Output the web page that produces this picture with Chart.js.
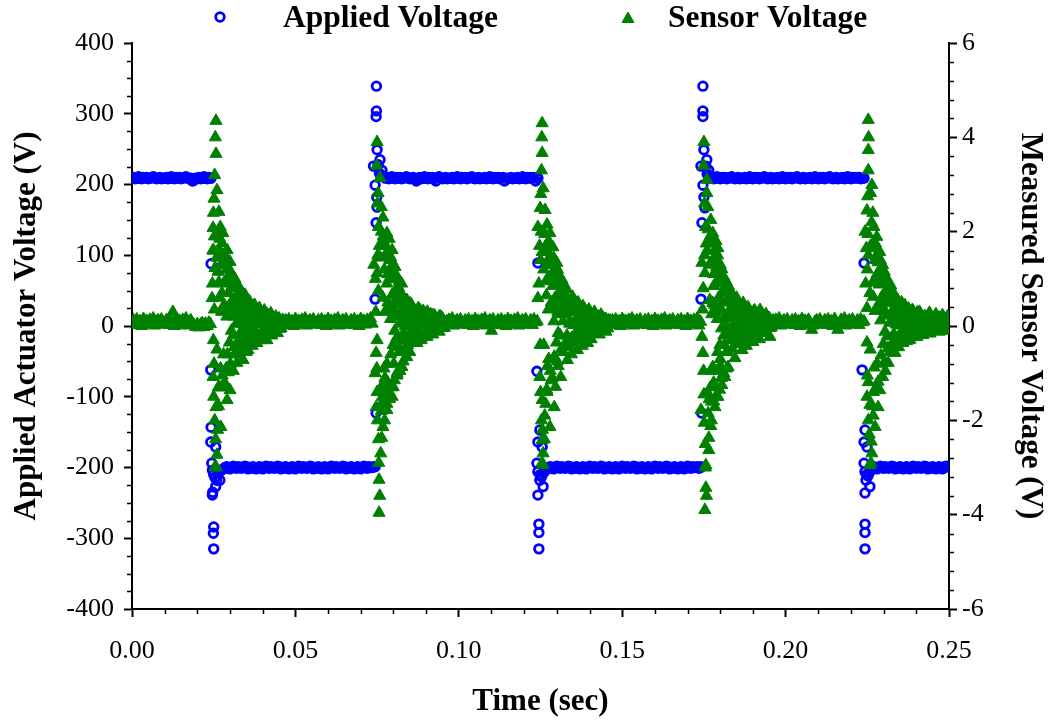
<!DOCTYPE html>
<html>
<head>
<meta charset="utf-8">
<title>Applied and Sensor Voltage</title>
<script src="https://cdn.jsdelivr.net/npm/chart.js@4.4.1/dist/chart.umd.min.js"></script>
<style>
  html, body { margin: 0; padding: 0; background: #ffffff; }
  canvas { display: block; }
</style>
</head>
<body>
<canvas id="chart" width="1053" height="721"></canvas>
<script>
// ---- Recorded samples ----
// Steady stretches are stored as uniformly sampled values (0.5 ms apart) from a start time;
// the switching transients are stored as [time (ms), voltage (V)] pairs.
const SAMPLE_MS = 0.5;
const run = (t0, values) => values.map((v, i) => [t0 + i * SAMPLE_MS, v]);

// Applied actuator voltage, left axis
const appliedHigh1 = run(0, [209,210,208,209,211,209,208,210,209,210, 208,209,210,211,209,208,209,210,208,209, 209,210,208,209,211,209,208,210,209,210, 208,209,210,211,209,208,209,205,206,209, 209,210,208,209,211,209,208,210,209]);
const appliedFall1 = [[24.2,209],[24.2,88],[24.1,-62],[24.2,-143],[24.1,-164],[25.6,-171],[24.4,-194],[24.6,-204],[25.0,-210],[25.4,-214],[25.9,-218],[26.9,-218],[25.6,-227],[24.7,-235],[24.6,-239],[25.0,-284],[24.9,-293],[25.0,-315],[26.3,-208],[27.0,-205],[27.6,-203],[28.2,-201]];
const appliedLow1 = run(28.5, [-200,-199,-201,-202,-200,-198,-200,-201,-199,-200, -201,-200,-198,-199,-202,-200,-201,-199,-200,-202, -200,-199,-201,-202,-200,-198,-200,-201,-199,-200, -201,-200,-198,-199,-202,-200,-201,-199,-200,-202, -200,-199,-201,-202,-200,-198,-200,-201,-199,-200, -201,-200,-198,-199,-202,-200,-201,-199,-200,-202, -200,-199,-201,-202,-200,-198,-200,-201,-199,-200, -201,-200,-198,-199,-202,-200,-201,-199,-200,-202, -200,-199,-201,-202,-200,-198,-200,-201,-199,-200, -200,-199]);
const appliedRise1 = [[74.4,-199],[74.7,-123],[74.4,38],[74.7,146],[75.0,168],[74.9,182],[74.4,199],[76.5,220],[73.9,226],[75.9,235],[75.0,249],[74.7,296],[74.8,304],[74.8,339],[75.3,228],[75.7,216],[76.1,213],[76.9,212],[77.3,211]];
const appliedHigh2 = run(77.5, [209,210,208,209,211,209,208,210,209,210, 208,209,210,211,209,208,209,210,208,205, 209,210,208,209,211,209,208,210,209,210, 208,205,210,211,209,208,209,210,208,209, 209,210,208,209,211,209,208,210,209,210, 208,209,210,211,209,208,209,210,208,209, 209,210,208,209,211,209,208,210,209,210, 208,209,210,205,209,208,209,210,208,209, 209,210,208,209,211,209,208,210,209,210, 209,210,205,209]);
const appliedFall2 = [[124.2,209],[124.2,89],[123.9,-64],[124.8,-147],[124.2,-164],[125.5,-171],[123.9,-194],[124.2,-206],[124.8,-218],[125.8,-227],[124.2,-239],[124.5,-280],[124.5,-292],[124.5,-315],[124.9,-210],[125.3,-213],[126.0,-207],[126.5,-204],[127.0,-202]];
const appliedLow2 = run(127.5, [-200,-199,-201,-202,-200,-198,-200,-201,-199,-200, -201,-200,-198,-199,-202,-200,-201,-199,-200,-202, -200,-199,-201,-202,-200,-198,-200,-201,-199,-200, -201,-200,-198,-199,-202,-200,-201,-199,-200,-202, -200,-199,-201,-202,-200,-198,-200,-201,-199,-200, -201,-200,-198,-199,-202,-200,-201,-199,-200,-202, -200,-199,-201,-202,-200,-198,-200,-201,-199,-200, -201,-200,-198,-199,-202,-200,-201,-199,-200,-202, -200,-199,-201,-202,-200,-198,-200,-201,-199,-200, -200,-199,-201,-200]);
const appliedRise2 = [[174.1,-199],[174.3,-123],[174.1,38],[174.4,146],[175.3,167],[175.0,182],[174.7,199],[176.5,220],[174.1,226],[175.9,235],[175.0,249],[174.7,296],[174.7,304],[174.7,339],[175.6,226],[176.0,215],[176.4,213],[176.8,211]];
const appliedHigh3 = run(177, [209,210,208,209,211,209,208,210,209,210, 208,209,210,211,209,208,209,210,208,209, 209,210,208,209,211,209,208,210,209,210, 208,209,210,211,209,208,209,210,208,209, 209,210,208,209,211,209,208,210,209,210, 208,209,210,211,209,208,209,210,208,209, 209,210,208,209,211,209,208,210,209,210, 208,209,210,211,209,208,209,210,208,209, 209,210,208,209,211,209,208,210,209,210, 209,210,208,209,209]);
const appliedFall3 = [[224.0,89],[223.4,-62],[224.3,-147],[224.0,-164],[224.9,-171],[224.0,-194],[224.3,-206],[224.6,-218],[225.8,-227],[224.3,-236],[224.3,-280],[224.3,-292],[224.3,-315],[224.8,-210],[225.2,-212],[225.6,-207],[226.1,-204]];
const appliedLow3 = run(226.5, [-200,-199,-201,-202,-200,-198,-200,-201,-199,-200, -201,-200,-198,-199,-202,-200,-201,-199,-200,-202, -200,-199,-201,-202,-200,-198,-200,-201,-199,-200, -201,-200,-198,-199,-202,-200,-201,-199,-200,-202, -200,-199,-201,-202,-200,-198,-199]);

// Measured sensor voltage, right axis
const sensorRest1 = run(0, [0.06,0.12,0.02,0.14,0.08,0.1,0.0,0.15,0.05,0.11, 0.03,0.13,0.07,0.16,0.01,0.09,0.12,0.04,0.14,0.06, 0.06,0.12,0.02,0.14,0.08,0.3,0.0,0.15,0.05,0.11, 0.03,0.13,0.07,0.16,0.01,0.09,0.12,0.04,0.02,-0.02, 0.04,-0.03,0.03,0.06,-0.02,0.05,0.0,0.07,0.04]);
const sensorRing1 = [[25.7,4.35],[25.7,3.65],[26.0,2.88],[26.6,2.42],[24.8,2.08],[27.8,1.97],[26.9,1.85],[29.1,1.61],[28.5,1.5],[30.0,1.36],[25.4,1.23],[26.6,0.93],[30.9,1.04],[24.5,0.59],[31.8,0.83],
  [24.8,-1.08],[25.7,-1.72],[27.2,-2.14],[26.0,-2.73],[25.4,-2.99],[28.5,-1.29],[29.4,-0.98],[29.1,-1.57],[30.0,-1.36],[32.1,-0.78],[34.0,-0.72],[35.5,-0.51],[38.2,-0.36],[41.3,-0.3],
  [25.0,1.6],[25.9,1.45],[26.3,1.15],[27.2,1.3],[27.5,0.7],[25.2,0.35],[26.0,-0.5],[25.1,-0.8],[26.4,-1.3],[27.6,-1.05],[28.0,-0.6],[28.8,-0.9],
  [28.2,0.45],[28.6,0.95],[29.0,0.2],[29.5,0.7],[29.8,-0.35],[30.3,0.35],[30.6,0.85],[31.0,-0.2],[31.3,0.5],[31.6,-0.6],[32.0,0.3],[32.4,0.7],[32.7,-0.3],[33.0,0.45],[33.4,0.05],[33.7,0.6],[34.1,-0.35],[34.4,0.3],[34.8,0.5],[35.1,-0.15],[35.5,0.38],[35.9,0.1],[36.3,-0.3],[36.7,0.42],[37.1,0.15],[37.5,-0.2],[37.9,0.35],[38.4,0.05],[38.9,0.3],[39.4,-0.18],[39.9,0.26],[40.4,-0.05],[40.9,0.22],[41.5,0.0],[42.1,0.2],[42.7,-0.12],[43.3,0.17],[43.9,-0.05],[44.6,0.15],[45.3,-0.06],[46.1,0.13],
  [33.0,0.8],[34.6,0.66],[36.0,0.52],[37.5,0.45],[39.0,0.38],[40.5,0.33],[42.5,0.27],
  [31.0,-0.95],[32.8,-0.6],[35.0,-0.55],[36.8,-0.42],[39.8,-0.3],[42.8,-0.2],[44.5,-0.15]];
const sensorCore1 = [[24.6,0.9],[24.7,1.6],[24.9,2.4],[25.1,2.7],[25.3,3.2],[25.5,4.0],[25.2,1.9],[24.9,-0.3],[25.0,-1.5],[25.3,-2.0],[25.6,-2.4],[25.8,-3.0],[26.2,-2.2],[26.5,-1.7],[26.8,-1.3],[27.0,2.1],[26.3,1.9],[26.8,1.6],[27.5,1.75],[28.0,1.5],[28.3,1.3],[29.0,1.4],[29.6,1.2],[30.2,1.15],[31.0,0.95],[31.5,1.0],[32.2,0.85],
  [26.8,0.6],[27.1,-0.9],[27.4,0.3],[27.7,1.5],[28.0,0.9],[28.3,-1.2],[28.6,0.35],[28.9,1.2],[29.2,-0.6],[29.5,0.4],[29.8,1.0],[30.1,-0.8],[30.4,-0.1],[30.7,0.55],[31.0,0.2],[31.3,-0.45],[31.6,0.8],[31.9,0.05],[32.2,-0.5],[32.5,0.6],[32.8,0.2],[33.1,-0.15],[33.4,0.35],[33.7,-0.45],[34.0,0.15],[34.3,0.5],[34.6,-0.2],[34.9,0.25],[35.2,0.0],[35.5,0.45],[35.8,-0.3],[36.1,0.2],[36.4,-0.05],[36.7,0.3],[37.0,-0.35],[37.3,0.1],[37.6,0.38],[37.9,-0.12],[38.2,0.2],[38.5,-0.25],[38.8,0.1],[39.1,0.32],[39.4,0.05],[39.7,-0.2],[40.0,0.15],[40.3,0.3],[40.6,-0.1],[41.0,0.1],[41.4,0.25],[41.8,-0.15],[42.2,0.05],[42.6,0.22],[43.0,-0.08],[43.5,0.1],[44.0,0.2],[44.5,0.0],[45.0,0.16],[45.6,-0.04],[46.3,0.1]];
const sensorRest2 = run(46.5, [0.06,0.12,0.02,0.14,0.08,0.1,0.0,0.15,0.05,0.11, 0.03,0.13,0.07,0.16,0.01,0.09,0.12,0.04,0.14,0.06, 0.06,0.12,0.02,0.14,0.08,0.1,0.0,0.15,0.05,0.11, 0.03,0.13,0.07,0.16,0.01,0.09,0.12,0.04,0.14,0.06, 0.06,0.12,0.02,0.14,0.08,0.1,0.0,0.15,0.05,0.11, 0.03,0.13,0.07,0.16,0.05]);
const sensorRing2 = [[75.0,3.9],[75.9,3.14],[75.3,2.82],[76.3,2.52],[76.8,2.3],[78.0,1.97],[79.6,1.61],[75.0,1.12],[80.5,1.12],[81.4,0.83],[75.4,0.75],[84.1,0.55],[88.1,0.34],
  [74.0,1.3],[74.5,1.0],[76.0,1.45],[77.0,1.8],[77.2,1.2],[78.9,1.4],[78.3,1.1],
  [75.6,-3.96],[75.6,-3.26],[76.1,-2.7],[76.4,-2.37],[76.8,-2.14],[74.7,-1.72],[78.0,-1.78],[79.6,-1.5],[79.9,-1.29],[76.2,-1.3],[81.1,-1.0],[74.7,-0.57],[82.6,-0.87],[84.1,-0.66],[87.2,-0.36],[90.3,-0.23],
  [74.4,-1.0],[75.0,-0.3],[76.8,-1.6],[77.4,-1.1],[78.5,-1.4],[78.0,-0.8],
  [78.3,0.5],[78.7,1.0],[79.1,0.15],[79.5,0.65],[79.9,-0.4],[80.2,0.3],[80.6,0.75],[81.0,-0.25],[81.4,0.45],[81.8,-0.55],[82.1,0.25],[82.5,0.68],[82.9,-0.3],[83.2,0.4],[83.6,0.0],[84.0,0.55],[84.3,-0.4],[84.7,0.3],[85.1,0.48],[85.5,-0.2],[85.9,0.36],[86.3,0.08],[86.7,-0.28],[87.2,0.2],[87.6,-0.15],[88.1,0.3],[88.6,0.02],[89.1,0.27],[89.6,-0.16],[90.1,0.22],[90.7,-0.05],[91.3,0.2],[91.9,-0.1],[92.5,0.18],[93.1,-0.06],[93.8,0.15],[94.5,-0.04],[95.2,0.12],
  [84.1,0.52],[85.5,0.45],[88.1,0.32],[90.5,0.28],[92.1,0.23],[94.5,0.2],
  [81.5,-0.95],[83.0,-0.75],[85.0,-0.55],[88.5,-0.3],[92.0,-0.18],[94.0,-0.12]];
const sensorCore2 = [[74.9,3.4],[75.1,2.6],[75.4,2.1],[75.7,1.7],[75.2,1.5],[74.6,0.3],[74.9,-0.9],[75.0,-1.4],[75.1,-2.0],[75.4,-2.4],[75.5,-2.9],[75.8,-3.6],[76.3,-1.8],[76.6,-1.5],[77.0,-1.3],[76.3,2.0],[76.9,1.9],[77.4,1.7],[78.3,1.6],[78.7,1.85],[79.2,1.45],[80.0,1.3],[80.5,1.25],[81.0,1.0],[81.8,0.95],[82.5,0.9],[77.3,-2.0],[78.0,-1.65],[78.8,-1.55],[79.8,-1.3],[80.3,-1.15],[81.1,-1.05],[82.0,-0.95],
  [76.8,0.6],[77.1,-0.9],[77.4,0.3],[77.7,1.5],[78.0,0.9],[78.3,-1.2],[78.6,0.35],[78.9,1.2],[79.2,-0.6],[79.5,0.4],[79.8,1.0],[80.1,-0.8],[80.4,-0.1],[80.7,0.55],[81.0,0.2],[81.3,-0.45],[81.6,0.8],[81.9,0.05],[82.2,-0.5],[82.5,0.6],[82.8,0.2],[83.1,-0.15],[83.4,0.35],[83.7,-0.45],[84.0,0.15],[84.3,0.5],[84.6,-0.2],[84.9,0.25],[85.2,0.0],[85.5,0.45],[85.8,-0.3],[86.1,0.2],[86.4,-0.05],[86.7,0.3],[87.0,-0.35],[87.3,0.1],[87.6,0.38],[87.9,-0.12],[88.2,0.2],[88.5,-0.25],[88.8,0.1],[89.1,0.32],[89.4,0.05],[89.7,-0.2],[90.0,0.15],[90.3,0.3],[90.6,-0.1],[91.0,0.1],[91.4,0.25],[91.8,-0.15],[92.2,0.05],[92.6,0.22],[93.0,-0.08],[93.5,0.1],[94.0,0.2],[94.5,0.0],[95.0,0.16],[95.6,-0.04],[96.3,0.1]];
const sensorRest3 = run(96.5, [0.03,0.13,0.07,0.16,0.01,0.09,0.12,0.04,0.14,0.06, 0.06,0.12,0.02,0.14,0.08,0.1,0.0,0.15,0.05,0.11, 0.03,0.13,0.07,0.16,0.01,0.09,0.12,-0.1,0.14,0.06, 0.06,0.12,0.02,0.14,0.08,0.1,0.0,0.15,0.05,0.11, 0.03,0.13,0.07,0.16,0.01,0.09,0.12,0.04,0.14,0.06, 0.06,0.12,0.02,0.14,0.08,0.1]);
const sensorRing3 = [[125.5,4.3],[125.5,3.67],[125.8,2.92],[126.4,2.46],[124.2,2.1],[127.9,1.97],[128.8,1.67],[125.5,1.57],[130.0,1.34],[126.9,0.98],[131.6,0.98],[124.2,0.59],
  [125.0,1.4],[126.0,1.2],[126.6,1.7],[127.3,1.3],[128.2,1.05],[129.3,1.2],[130.8,0.9],
  [124.8,-1.08],[125.5,-1.57],[129.2,-1.72],[127.9,-2.14],[125.5,-2.42],[125.8,-2.7],[125.5,-2.9],[129.6,-1.29],[131.2,-1.08],[128.0,-0.95],[133.2,-0.72],[136.3,-0.51],[139.4,-0.36],
  [126.3,-1.9],[127.0,-1.4],[127.5,-0.7],[128.6,-1.1],[130.4,-0.85],[126.0,-0.4],
  [128.3,0.5],[128.7,0.85],[129.1,0.1],[129.5,0.6],[129.9,-0.35],[130.3,0.3],[130.7,0.7],[131.1,-0.2],[131.5,0.45],[131.9,-0.55],[132.3,0.25],[132.7,0.65],[133.1,-0.3],[133.5,0.4],[133.9,0.05],[134.3,0.55],[134.7,-0.35],[135.1,0.3],[135.5,0.48],[135.9,-0.15],[136.3,0.35],[136.7,0.05],[137.1,-0.28],[137.6,0.32],[138.1,0.05],[138.6,-0.2],[139.1,0.28],[139.7,0.0],[140.3,0.24],[140.9,-0.12],[141.5,0.2],[142.2,-0.05],[142.9,0.18],[143.6,-0.08],[144.3,0.15],[145.0,-0.03],[145.8,0.12],
  [133.0,0.78],[134.8,0.62],[136.5,0.5],[138.0,0.42],[139.8,0.35],[141.5,0.3],[143.5,0.24],
  [134.5,-0.6],[137.8,-0.42],[140.5,-0.28],[143.0,-0.18],[145.0,-0.12]];
const sensorCore3 = [[124.5,0.9],[124.7,1.7],[124.9,2.5],[125.1,2.8],[125.3,3.3],[125.4,4.0],[125.2,2.0],[124.9,-0.4],[125.0,-1.4],[125.3,-2.0],[125.6,-2.2],[125.7,-2.95],[126.2,-2.4],[126.6,-1.65],[126.9,-1.35],[127.0,2.15],[126.3,1.95],[126.9,1.6],[127.5,1.8],[128.0,1.45],[128.3,1.3],[129.0,1.45],[129.6,1.15],[130.2,1.2],[131.0,1.0],[131.5,0.95],[132.2,0.88],
  [126.8,0.65],[127.1,-0.85],[127.4,0.35],[127.7,1.45],[128.0,0.95],[128.3,-1.15],[128.6,0.4],[128.9,1.15],[129.2,-0.65],[129.5,0.45],[129.8,0.95],[130.1,-0.75],[130.4,-0.15],[130.7,0.6],[131.0,0.25],[131.3,-0.5],[131.6,0.75],[131.9,0.1],[132.2,-0.45],[132.5,0.55],[132.8,0.25],[133.1,-0.2],[133.4,0.4],[133.7,-0.4],[134.0,0.1],[134.3,0.45],[134.6,-0.25],[134.9,0.3],[135.2,0.02],[135.5,0.42],[135.8,-0.28],[136.1,0.18],[136.4,-0.08],[136.7,0.32],[137.0,-0.3],[137.3,0.12],[137.6,0.36],[137.9,-0.15],[138.2,0.22],[138.5,-0.22],[138.8,0.08],[139.1,0.3],[139.4,0.03],[139.7,-0.18],[140.0,0.17],[140.3,0.28],[140.6,-0.12],[141.0,0.12],[141.4,0.24],[141.8,-0.13],[142.2,0.06],[142.6,0.2],[143.0,-0.06],[143.5,0.12],[144.0,0.19],[144.5,-0.02],[145.0,0.15],[145.6,-0.05],[146.3,0.11]];
const sensorRest4 = run(146.5, [0.06,0.12,0.02,0.14,0.08,0.1,0.0,0.15,0.05,0.11, 0.03,0.13,0.07,0.16,0.01,0.09,0.12,0.04,0.14,0.06, 0.06,0.12,0.02,0.14,0.08,0.1,0.0,0.15,0.05,0.11, 0.03,0.13,0.07,0.16,0.01,0.09,0.12,0.04,0.14,0.06, 0.06,0.12,0.02,0.14,0.08,0.1,0.0,0.15,0.05,0.11, 0.03,0.13,0.07,0.16,0.01,0.09]);
const sensorRing4 = [[175.0,3.9],[175.9,3.1],[175.9,2.82],[176.2,2.52],[177.1,2.25],[177.7,1.97],[179.3,1.65],[174.4,1.34],[179.0,1.4],[179.9,1.12],[175.3,1.12],[182.1,0.83],[177.7,0.49],[187.0,0.49],[192.2,0.34],
  [176.0,1.6],[176.7,1.3],[178.0,1.1],[178.6,1.5],[180.8,1.0],[174.8,0.8],
  [175.3,-3.9],[175.6,-3.43],[175.6,-2.95],[176.5,-2.63],[176.5,-2.37],[177.1,-2.12],[174.1,-1.78],[178.4,-1.72],[179.3,-1.5],[180.5,-1.25],[176.2,-1.42],[181.4,-1.08],[177.7,-0.87],[182.4,-0.87],[184.5,-0.68],[186.7,-0.51],[190.0,-0.34],[195.2,-0.23],[174.4,-0.23],[174.7,-0.57],
  [177.3,-1.6],[178.0,-1.2],[179.0,-0.95],[180.0,-0.7],
  [178.3,0.45],[178.7,0.9],[179.1,0.15],[179.5,0.6],[179.9,-0.4],[180.3,0.35],[180.7,0.72],[181.1,-0.2],[181.5,0.5],[181.9,-0.55],[182.3,0.25],[182.7,0.65],[183.1,-0.3],[183.5,0.42],[183.9,0.02],[184.3,0.56],[184.7,-0.38],[185.1,0.3],[185.5,0.46],[185.9,-0.18],[186.3,0.36],[186.7,0.08],[187.2,-0.25],[187.7,0.3],[188.2,0.02],[188.7,-0.2],[189.2,0.27],[189.8,-0.05],[190.4,0.22],[191.0,-0.12],[191.7,0.2],[192.4,-0.05],[193.1,0.17],[193.8,-0.08],[194.5,0.14],[195.3,-0.04],[196.1,0.12],
  [183.5,0.7],[185.0,0.6],[188.5,0.4],[190.5,0.33],[194.0,0.25],
  [188.0,-0.42],[192.0,-0.28],[194.0,-0.15]];
const sensorCore4 = [[174.9,3.4],[175.2,2.6],[175.5,2.1],[175.7,1.75],[175.2,1.5],[174.6,0.35],[174.9,-0.95],[175.0,-1.45],[175.1,-2.05],[175.4,-2.5],[175.5,-3.0],[175.8,-3.6],[176.3,-1.85],[176.6,-1.55],[177.0,-1.3],[176.3,2.05],[176.9,1.9],[177.4,1.75],[178.3,1.6],[178.7,1.8],[179.2,1.5],[180.0,1.3],[180.5,1.2],[181.0,1.05],[181.8,0.95],[182.5,0.85],[177.3,-2.0],[178.0,-1.6],[178.8,-1.5],[179.8,-1.35],[180.3,-1.1],[181.1,-1.0],[182.0,-0.9],
  [176.8,0.55],[177.1,-0.95],[177.4,0.25],[177.7,1.4],[178.0,0.85],[178.3,-1.25],[178.6,0.3],[178.9,1.25],[179.2,-0.55],[179.5,0.35],[179.8,1.05],[180.1,-0.85],[180.4,-0.05],[180.7,0.5],[181.0,0.15],[181.3,-0.4],[181.6,0.85],[181.9,0.0],[182.2,-0.55],[182.5,0.62],[182.8,0.18],[183.1,-0.12],[183.4,0.32],[183.7,-0.48],[184.0,0.18],[184.3,0.52],[184.6,-0.18],[184.9,0.22],[185.2,-0.02],[185.5,0.47],[185.8,-0.32],[186.1,0.22],[186.4,-0.03],[186.7,0.28],[187.0,-0.33],[187.3,0.12],[187.6,0.4],[187.9,-0.1],[188.2,0.18],[188.5,-0.27],[188.8,0.12],[189.1,0.3],[189.4,0.06],[189.7,-0.22],[190.0,0.13],[190.3,0.32],[190.6,-0.08],[191.0,0.11],[191.4,0.26],[191.8,-0.14],[192.2,0.04],[192.6,0.23],[193.0,-0.07],[193.5,0.11],[194.0,0.21],[194.5,0.01],[195.0,0.17],[195.6,-0.03],[196.3,0.1]];
const sensorRest5 = run(196.5, [0.03,0.13,0.07,0.16,0.01,0.09,0.12,0.04,0.14,0.06, 0.06,0.12,0.02,0.14,0.08,0.1,0.0,0.15,0.05,0.11, 0.03,0.13,0.07,-0.08,0.01,0.09,0.12,0.04,0.14,0.06, 0.06,0.12,0.02,0.14,0.08,0.1,0.0,0.15,0.05,-0.08, 0.03,0.13,0.07,0.16,0.01,0.09,0.12,0.04,0.14,0.06, 0.06,0.12,0.02,0.14,0.08,0.1]);
const sensorRing5 = [[225.3,4.37],[225.3,3.73],[226.4,2.99],[226.0,2.82],[226.7,2.4],[224.3,2.0],[227.9,1.89],[228.8,1.57],[225.3,1.5],[229.7,1.29],[226.7,0.93],[224.9,0.38],[231.8,0.83],[234.8,0.49],[238.8,0.34],[244.0,0.28],[248.0,0.23],
  [225.0,1.2],[226.0,1.7],[227.3,1.4],[228.0,1.1],[230.5,1.05],[225.8,0.7],
  [225.3,-1.19],[224.9,-1.5],[225.8,-1.67],[228.3,-1.72],[228.8,-1.36],[229.7,-1.08],[227.4,-2.14],[226.4,-2.7],[226.1,-2.9],[231.4,-0.78],[233.5,-0.57],[235.9,-0.36],[240.2,-0.23],[244.2,-0.16],[249.4,-0.1],
  [226.8,-1.9],[227.8,-1.3],[228.0,-0.8],[230.5,-0.95],[225.9,-0.5],
  [228.3,0.45],[228.7,0.88],[229.1,0.12],[229.5,0.62],[229.9,-0.38],[230.3,0.32],[230.7,0.75],[231.1,-0.22],[231.5,0.48],[231.9,-0.55],[232.3,0.27],[232.7,0.66],[233.1,-0.32],[233.5,0.4],[233.9,0.03],[234.3,0.55],[234.7,-0.36],[235.1,0.3],[235.5,0.5],[235.9,-0.16],[236.3,0.36],[236.7,0.06],[237.1,-0.27],[237.6,0.3],[238.1,0.04],[238.6,-0.2],[239.1,0.28],[239.7,-0.02],[240.3,0.24],[240.9,-0.12],[241.5,0.2],[242.2,-0.05],[242.9,0.18],[243.6,-0.08],[244.3,0.15],[245.0,-0.03],[245.8,0.14],[246.6,-0.04],[247.4,0.13],[248.2,0.0],[249.0,0.12],[249.6,0.05],[249.8,0.15],
  [233.0,0.7],[236.5,0.44],[241.0,0.3],[246.0,0.25],[249.5,0.2],
  [234.6,-0.45],[238.0,-0.3],[242.0,-0.19],[247.0,-0.12]];
const sensorCore5 = [[224.5,0.9],[224.7,1.65],[224.9,2.45],[225.1,2.75],[225.3,3.3],[225.4,4.0],[225.2,1.95],[224.9,-0.35],[225.0,-1.05],[225.3,-2.0],[225.6,-2.3],[225.8,-2.95],[226.2,-2.45],[226.6,-1.7],[226.9,-1.4],[227.0,2.1],[226.3,2.2],[226.9,1.65],[227.5,1.75],[228.0,1.5],[228.3,1.35],[229.0,1.4],[229.6,1.2],[230.2,1.15],[231.0,1.0],[231.5,0.92],[232.2,0.86],
  [226.8,0.62],[227.1,-0.88],[227.4,0.32],[227.7,1.48],[228.0,0.92],[228.3,-1.18],[228.6,0.38],[228.9,1.18],[229.2,-0.62],[229.5,0.42],[229.8,0.98],[230.1,-0.78],[230.4,-0.12],[230.7,0.58],[231.0,0.22],[231.3,-0.47],[231.6,0.78],[231.9,0.07],[232.2,-0.48],[232.5,0.58],[232.8,0.22],[233.1,-0.17],[233.4,0.37],[233.7,-0.43],[234.0,0.13],[234.3,0.48],[234.6,-0.22],[234.9,0.27],[235.2,0.01],[235.5,0.44],[235.8,-0.29],[236.1,0.19],[236.4,-0.06],[236.7,0.31],[237.0,-0.32],[237.3,0.11],[237.6,0.37],[237.9,-0.13],[238.2,0.21],[238.5,-0.24],[238.8,0.09],[239.1,0.31],[239.4,0.04],[239.7,-0.19],[240.0,0.16],[240.3,0.29],[240.6,-0.11],[241.0,0.11],[241.4,0.24],[241.8,-0.14],[242.2,0.05],[242.6,0.21],[243.0,-0.07],[243.5,0.11],[244.0,0.2],[244.5,0.01],[245.0,0.16],[245.6,-0.04],[246.3,0.1],[247.0,0.18],[247.7,-0.02],[248.4,0.15],[249.1,0.05],[249.7,0.1]];

// ---- Axis labels and ticks ----
const seriesNames = ['Applied Voltage', 'Sensor Voltage'];
const xTickLabels = ['0.00', '0.05', '0.10', '0.15', '0.20', '0.25'];
const yTickLabels = ['-400', '-300', '-200', '-100', '0', '100', '200', '300', '400'];
const y1TickLabels = ['-6', '-4', '-2', '0', '2', '4', '6'];
const xTitle = 'Time (sec)';
const yTitle = 'Applied Actuator Voltage (V)';
const y1Title = 'Measured Sensor Voltage (V)';

// ---- Build datasets (ms -> s) ----
const toPoints = segments => segments.flat().map(([t, v]) => ({ x: t / 1000, y: v }));
const appliedPoints = toPoints([appliedHigh1, appliedFall1, appliedLow1, appliedRise1, appliedHigh2,
  appliedFall2, appliedLow2, appliedRise2, appliedHigh3, appliedFall3, appliedLow3]);
const sensorPoints = toPoints([sensorRest1, sensorRing1, sensorCore1, sensorRest2, sensorRing2, sensorCore2,
  sensorRest3, sensorRing3, sensorCore3, sensorRest4, sensorRing4, sensorCore4, sensorRest5, sensorRing5, sensorCore5]);

const BLUE = '#0000ff';
const GREEN = '#008000';
const FONT = 'Liberation Serif';
Chart.defaults.font.family = FONT;
Chart.defaults.color = '#000000';

const circleMarker = { pointStyle: 'circle', radius: 4.3, borderWidth: 2.8, rotation: 0 };
const triangleMarker = { pointStyle: 'triangle', radius: 7, borderWidth: 1, rotation: 0 };

// Short minor ticks between the labelled ones
const minorTicks = {
  id: 'minorTicks',
  afterDraw(chart) {
    const { ctx, scales } = chart;
    ctx.save();
    ctx.strokeStyle = '#000000';
    ctx.lineWidth = 1.5;
    const len = 5;
    ctx.beginPath();
    // x: every 0.01 s
    for (let k = 1; k < 25; k++) {
      if (k % 5 === 0) continue;
      const px = Math.round(scales.x.getPixelForValue(k / 100)) + 0.5;
      ctx.moveTo(px, scales.x.top); ctx.lineTo(px, scales.x.top + len);
    }
    // left: every 25 V
    for (let k = -16; k <= 16; k++) {
      if (k % 4 === 0) continue;
      const py = Math.round(scales.y.getPixelForValue(k * 25)) + 0.5;
      ctx.moveTo(scales.y.right, py); ctx.lineTo(scales.y.right - len, py);
    }
    // right: every 0.4 V
    for (let k = -15; k <= 15; k++) {
      if (k % 5 === 0) continue;
      const py = Math.round(scales.y1.getPixelForValue(k * 0.4)) + 0.5;
      ctx.moveTo(scales.y1.left, py); ctx.lineTo(scales.y1.left + len, py);
    }
    ctx.stroke();
    ctx.restore();
  }
};

// Legend row above the plot
const topLegend = {
  id: 'topLegend',
  afterDraw(chart) {
    const ctx = chart.ctx;
    ctx.save();
    ctx.lineWidth = circleMarker.borderWidth;
    ctx.strokeStyle = BLUE;
    ctx.fillStyle = 'rgba(0,0,0,0)';
    Chart.helpers.drawPoint(ctx, circleMarker, 220, 17);
    ctx.lineWidth = triangleMarker.borderWidth;
    ctx.strokeStyle = GREEN;
    ctx.fillStyle = GREEN;
    Chart.helpers.drawPoint(ctx, triangleMarker, 628, 19);
    ctx.fillStyle = '#000000';
    ctx.font = 'bold 31.5px "' + FONT + '"';
    ctx.textBaseline = 'middle';
    ctx.textAlign = 'left';
    ctx.fillText(seriesNames[0], 283, 19);
    ctx.fillText(seriesNames[1], 668, 19);
    ctx.restore();
  }
};

const tickFont = { family: FONT, size: 26 };
const titleFont = { family: FONT, size: 31, weight: 'bold' };
const axisGrid = { drawOnChartArea: false, drawTicks: true, tickLength: 8, tickColor: '#000000', tickWidth: 2 };
const axisBorder = { display: true, color: '#000000', width: 2 };

new Chart(document.getElementById('chart'), {
  type: 'scatter',
  data: {
    datasets: [
      {
        label: seriesNames[0],
        data: appliedPoints,
        yAxisID: 'y',
        pointStyle: circleMarker.pointStyle,
        pointRadius: circleMarker.radius,
        pointBorderWidth: circleMarker.borderWidth,
        borderColor: BLUE,
        backgroundColor: 'rgba(0,0,0,0)',
        order: 1
      },
      {
        label: seriesNames[1],
        data: sensorPoints,
        yAxisID: 'y1',
        pointStyle: triangleMarker.pointStyle,
        pointRadius: triangleMarker.radius,
        pointBorderWidth: triangleMarker.borderWidth,
        borderColor: GREEN,
        backgroundColor: GREEN,
        order: 0
      }
    ]
  },
  options: {
    responsive: false,
    animation: false,
    devicePixelRatio: 1,
    events: [],
    layout: { padding: { top: 43, left: 0, right: 0, bottom: 0 } },
    plugins: { legend: { display: false }, tooltip: { enabled: false } },
    scales: {
      x: {
        type: 'linear', position: 'bottom', min: 0, max: 0.25,
        ticks: { stepSize: 0.05, padding: 19, font: tickFont, color: '#000000', maxRotation: 0, autoSkip: false,
                 callback: (v, i) => xTickLabels[i] },
        grid: axisGrid, border: axisBorder,
        title: { display: true, text: xTitle, font: titleFont, color: '#000000', padding: { top: 0, bottom: 0 } },
        afterFit: s => { s.height = 112; }
      },
      y: {
        type: 'linear', position: 'left', min: -400, max: 400,
        ticks: { stepSize: 100, padding: 10, font: tickFont, color: '#000000',
                 callback: (v, i) => yTickLabels[i] },
        grid: axisGrid, border: axisBorder,
        title: { display: true, text: yTitle, font: titleFont, color: '#000000', padding: { top: 8, bottom: 0 } },
        afterFit: s => { s.width = 132; }
      },
      y1: {
        type: 'linear', position: 'right', min: -6, max: 6,
        ticks: { stepSize: 2, padding: 5, font: tickFont, color: '#000000',
                 callback: (v, i) => y1TickLabels[i] },
        grid: axisGrid, border: axisBorder,
        title: { display: true, text: y1Title, font: titleFont, color: '#000000', padding: { top: 4, bottom: 0 } },
        afterFit: s => { s.width = 104; }
      }
    }
  },
  plugins: [minorTicks, topLegend]
});
</script>
</body>
</html>
